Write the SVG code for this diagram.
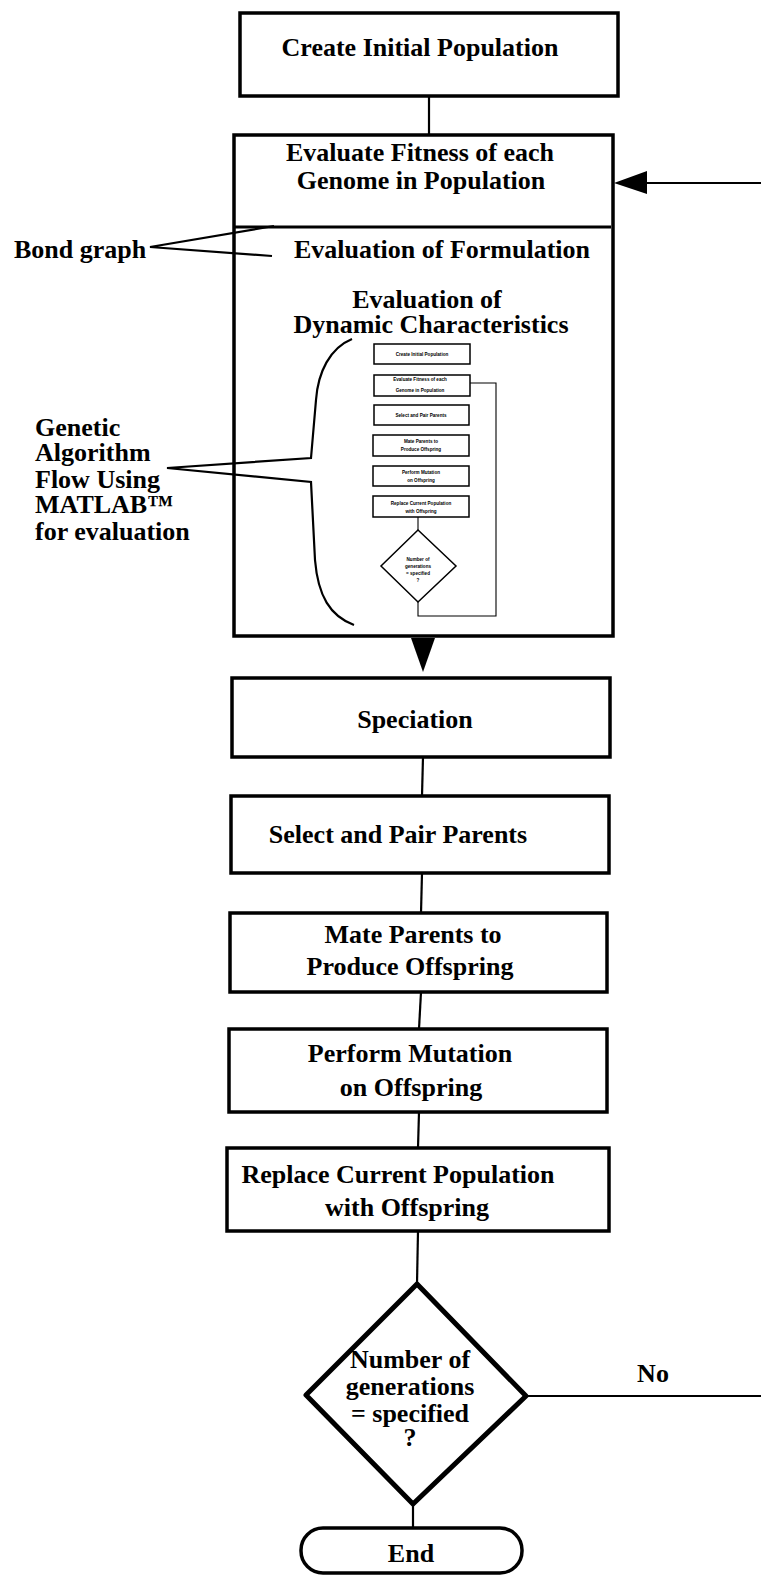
<svg xmlns="http://www.w3.org/2000/svg" width="761" height="1575" viewBox="0 0 761 1575">
  <defs>
    <style>
      .box { fill: #fff; stroke: #000; stroke-width: 3.5; }
      .mini { fill: #fff; stroke: #000; stroke-width: 1.5; }
      .wire { fill: none; stroke: #000; stroke-width: 2.2; }
      .thin { fill: none; stroke: #000; stroke-width: 1.1; }
      .lbl { font-family: "Liberation Serif", "Times New Roman", serif; font-weight: bold; font-size: 26px; fill: #000; }
      .mid { text-anchor: middle; }
      .tiny { font-family: "Liberation Sans", Arial, sans-serif; font-weight: bold; font-size: 4.6px; fill: #000; text-anchor: middle; }
    </style>
  </defs>
  <rect width="761" height="1575" fill="#fff"/>

  <!-- nodes -->
  <g id="create-initial">
    <rect class="box" x="240" y="13" width="378" height="83"/>
    <text class="lbl mid" x="420" y="56">Create Initial Population</text>
  </g>

  <g id="evaluate-fitness">
    <rect class="box" x="234" y="135" width="379" height="501"/>
    <line x1="235" y1="227" x2="611" y2="227" stroke="#000" stroke-width="3"/>
    <text class="lbl mid" x="420" y="161">Evaluate Fitness of each</text>
    <text class="lbl mid" x="421" y="189">Genome in Population</text>
    <text class="lbl mid" x="442" y="258">Evaluation of Formulation</text>
    <text class="lbl mid" x="427" y="308" font-size="25">Evaluation of</text>
    <text class="lbl mid" x="431" y="333" font-size="25">Dynamic Characteristics</text>

    <!-- embedded MATLAB flow -->
    <g id="matlab-flow">
      <rect class="mini" x="374" y="344" width="96" height="20"/>
      <text class="tiny" x="422" y="356">Create Initial Population</text>
      <rect class="mini" x="374" y="375" width="96" height="21"/>
      <text class="tiny" x="420" y="381">Evaluate Fitness of each</text>
      <text class="tiny" x="420" y="392">Genome in Population</text>
      <rect class="mini" x="374" y="405" width="95" height="20"/>
      <text class="tiny" x="421" y="417">Select and Pair Parents</text>
      <rect class="mini" x="373" y="435" width="96" height="21"/>
      <text class="tiny" x="421" y="443">Mate Parents to</text>
      <text class="tiny" x="421" y="451">Produce Offspring</text>
      <rect class="mini" x="373" y="466" width="96" height="20"/>
      <text class="tiny" x="421" y="474">Perform Mutation</text>
      <text class="tiny" x="421" y="482">on Offspring</text>
      <rect class="mini" x="373" y="496" width="96" height="21"/>
      <text class="tiny" x="421" y="505">Replace Current Population</text>
      <text class="tiny" x="421" y="513">with Offspring</text>
      <line class="thin" x1="418" y1="517" x2="418" y2="530"/>
      <polygon class="mini" points="418,530 456,566 418,602 381,566"/>
      <text class="tiny" x="418" y="561">Number of</text>
      <text class="tiny" x="418" y="568">generations</text>
      <text class="tiny" x="418" y="575">= specified</text>
      <text class="tiny" x="418" y="582">?</text>
      <polyline class="thin" points="418,602 418,616 496,616 496,383 470,383"/>
    </g>
  </g>

  <g id="speciation">
    <rect class="box" x="232" y="678" width="378" height="79"/>
    <text class="lbl mid" x="415" y="728">Speciation</text>
  </g>

  <g id="select-pair">
    <rect class="box" x="231" y="796" width="378" height="77"/>
    <text class="lbl mid" x="398" y="843">Select and Pair Parents</text>
  </g>

  <g id="mate-parents">
    <rect class="box" x="230" y="913" width="377" height="79"/>
    <text class="lbl mid" x="413" y="943">Mate Parents to</text>
    <text class="lbl mid" x="410" y="975">Produce Offspring</text>
  </g>

  <g id="perform-mutation">
    <rect class="box" x="229" y="1029" width="378" height="83"/>
    <text class="lbl mid" x="410" y="1062">Perform Mutation</text>
    <text class="lbl mid" x="411" y="1096">on Offspring</text>
  </g>

  <g id="replace-population">
    <rect class="box" x="227" y="1148" width="382" height="83"/>
    <text class="lbl mid" x="398" y="1183">Replace Current Population</text>
    <text class="lbl mid" x="407" y="1216">with Offspring</text>
  </g>

  <g id="generations-check">
    <polygon points="417,1284 526,1396 413,1504 306,1395" fill="#fff" stroke="#000" stroke-width="5" stroke-linejoin="round"/>
    <text class="lbl mid" x="410" y="1368" font-size="25">Number of</text>
    <text class="lbl mid" x="410" y="1395" font-size="25">generations</text>
    <text class="lbl mid" x="410" y="1422" font-size="25">= specified</text>
    <text class="lbl mid" x="410" y="1446" font-size="25">?</text>
  </g>

  <g id="end">
    <rect class="box" x="301" y="1528" width="221" height="45" rx="22" ry="22"/>
    <text class="lbl mid" x="411" y="1562">End</text>
  </g>

  <!-- connectors -->
  <g id="connectors">
    <line class="wire" x1="429" y1="96" x2="429" y2="135"/>
    <!-- loop return into the fitness evaluation -->
    <line class="wire" x1="645" y1="183" x2="761" y2="183"/>
    <polygon points="614,183 647,171 647,194" fill="#000"/>
    <!-- out of the evaluation block -->
    <polygon points="411,638 435,638 423,672" fill="#000"/>
    <line class="wire" x1="423" y1="757" x2="422" y2="796"/>
    <line class="wire" x1="422" y1="873" x2="421" y2="913"/>
    <line class="wire" x1="421" y1="992" x2="419" y2="1029"/>
    <line class="wire" x1="419" y1="1112" x2="418" y2="1148"/>
    <line class="wire" x1="418" y1="1231" x2="417" y2="1284"/>
    <line class="wire" x1="413" y1="1504" x2="413" y2="1528"/>
    <line class="wire" x1="526" y1="1396" x2="761" y2="1396"/>
    <text class="lbl mid" x="653" y="1382" font-size="25">No</text>
  </g>

  <!-- annotation callouts -->
  <g id="bond-graph-note">
    <polyline class="wire" points="274,226 150,247 272,256"/>
    <text class="lbl" x="14" y="258">Bond graph</text>
  </g>
  <g id="ga-flow-note">
    <path class="wire" d="M 352 339 C 330 348 318 372 316 400 L 311 458 L 167 468 L 311 482 L 315 560 C 318 596 330 616 354 625"/>
    <text class="lbl" x="35" y="436" font-size="25">Genetic</text>
    <text class="lbl" x="35" y="461" font-size="25">Algorithm</text>
    <text class="lbl" x="35" y="488" font-size="25">Flow Using</text>
    <text class="lbl" x="35" y="513" font-size="25">MATLAB™</text>
    <text class="lbl" x="35" y="540" font-size="25">for evaluation</text>
  </g>
</svg>
